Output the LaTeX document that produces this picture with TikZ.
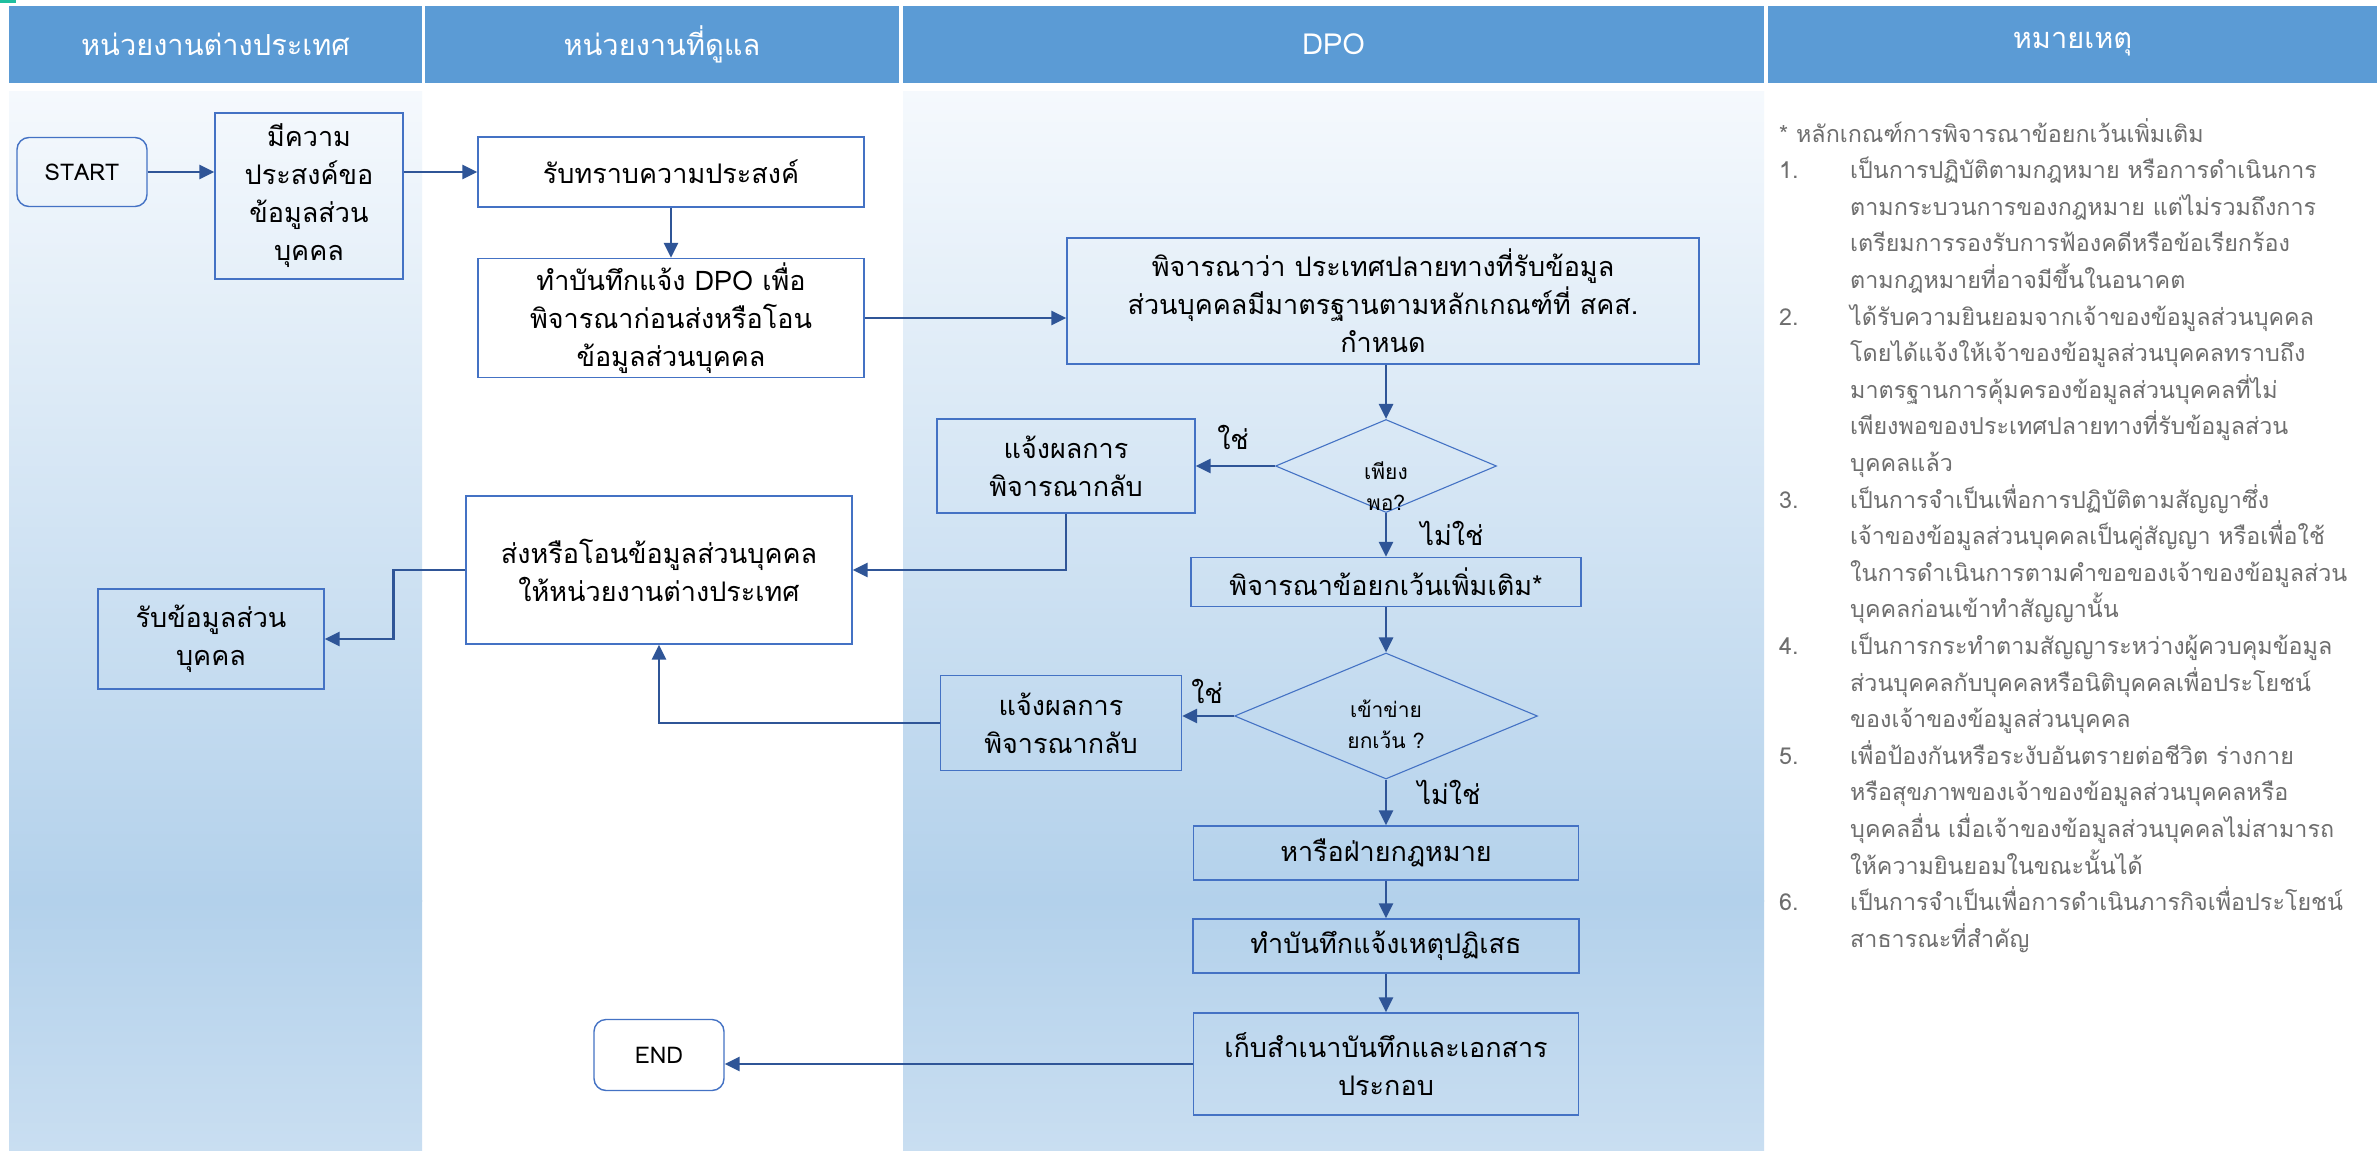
\documentclass[tikz,border=0pt]{standalone}
\usepackage{fontspec}
\setmainfont[Script=Thai]{Loma}
\usetikzlibrary{shapes.geometric,arrows.meta,calc}
\definecolor{hdr}{HTML}{5B9BD5}
\definecolor{ln}{HTML}{2F5597}
\definecolor{bd}{HTML}{4472C4}
\definecolor{laneTop}{HTML}{F5F9FD}
\definecolor{laneMid}{HTML}{B3D1EB}
\definecolor{laneBot}{HTML}{C9DEF1}
\definecolor{notegray}{HTML}{6E6E6E}
\definecolor{teal}{HTML}{1FBF9F}
\newcommand{\notepar}[1]{\parbox[t]{525pt}{\raggedright #1}}
\begin{document}
\begin{tikzpicture}[x=1pt,y=-1pt,
  hdrbox/.style={fill=hdr,draw=none,text=white,inner sep=0pt,font=\fontsize{29}{34}\selectfont},
  box/.style={draw=bd,line width=1.4pt,align=center,inner sep=0pt,font=\fontsize{27}{38}\selectfont},
  term/.style={box,rounded corners=12pt,font=\fontsize{23}{28}\selectfont},
  dec/.style={diamond,draw=bd,line width=1.1pt,inner sep=0pt},
  dectext/.style={align=center,inner sep=0pt,font=\fontsize{21}{31}\selectfont},
  lbl/.style={inner sep=0pt,font=\fontsize{27}{30}\selectfont},
  conn/.style={draw=ln,line width=2.8pt,-{Triangle[length=15pt,width=14pt]}},
  notetxt/.style={anchor=base west,inner sep=0pt,text=notegray,font=\fontsize{23.3}{36.6}\selectfont},
]
\useasboundingbox (0,0) rectangle (2380,1151);
\fill[white] (0,0) rectangle (2380,1151);
\fill[teal] (0,0) rectangle (16,3);
% lanes
\shade[top color=laneTop,bottom color=laneMid] (9,91) rectangle (422,901);
\shade[top color=laneMid,bottom color=laneBot] (9,900) rectangle (422,1151);
\shade[top color=laneTop,bottom color=laneMid] (903,91) rectangle (1764,901);
\shade[top color=laneMid,bottom color=laneBot] (903,900) rectangle (1764,1151);
% headers
\node[hdrbox,minimum width=413pt,minimum height=77pt] (h1) at (215.5,44.5) {หน่วยงานต่างประเทศ};
\node[hdrbox,minimum width=474pt,minimum height=77pt] (h2) at (662,44.5) {หน่วยงานที่ดูแล};
\node[hdrbox,minimum width=861pt,minimum height=77pt] (h3) at (1333.5,44.5) {DPO};
\node[hdrbox,minimum width=609pt,minimum height=77pt] (h4) at (2072.5,44.5) {หมายเหตุ};
% nodes
\node[term,minimum width=130pt,minimum height=69pt] (start) at (82,172) {START};
\node[box,minimum width=188pt,minimum height=166pt] (n2) at (309,196) {มีความ\\ประสงค์ขอ\\ข้อมูลส่วน\\บุคคล};
\node[box,minimum width=386pt,minimum height=70pt] (n3) at (671,172) {รับทราบความประสงค์};
\node[box,minimum width=386pt,minimum height=119pt] (n5) at (671,318) {ทำบันทึกแจ้ง DPO เพื่อ\\พิจารณาก่อนส่งหรือโอน\\ข้อมูลส่วนบุคคล};
\node[box,minimum width=632pt,minimum height=126pt] (n7) at (1383,301) {พิจารณาว่า ประเทศปลายทางที่รับข้อมูล\\ส่วนบุคคลมีมาตรฐานตามหลักเกณฑ์ที่ สคส.\\กำหนด};
\node[dec,minimum width=221pt,minimum height=93pt] (d1) at (1386,466) {};
\node[dectext] (d1t) at (1386,486) {เพียง\\พอ?};
\node[box,minimum width=258pt,minimum height=94pt] (r1) at (1066,466) {แจ้งผลการ\\พิจารณากลับ};
\node[box,minimum width=386pt,minimum height=148pt] (n10) at (659,570) {ส่งหรือโอนข้อมูลส่วนบุคคล\\ให้หน่วยงานต่างประเทศ};
\node[box,minimum width=226pt,minimum height=100pt] (n11) at (211,639) {รับข้อมูลส่วน\\บุคคล};
\node[box,minimum width=390pt,minimum height=49pt] (n13) at (1386,582) {พิจารณาข้อยกเว้นเพิ่มเติม*};
\node[dec,minimum width=303pt,minimum height=126pt] (d2) at (1386,716) {};
\node[dectext] (d2t) at (1386,724) {เข้าข่าย\\ยกเว้น ?};
\node[box,minimum width=241pt,minimum height=95pt] (r2) at (1061,723) {แจ้งผลการ\\พิจารณากลับ};
\node[box,minimum width=385pt,minimum height=54pt] (n14) at (1386,853) {หารือฝ่ายกฎหมาย};
\node[box,minimum width=386pt,minimum height=54pt] (n15) at (1386,946) {ทำบันทึกแจ้งเหตุปฏิเสธ};
\node[box,minimum width=385pt,minimum height=102pt] (n16) at (1386,1064) {เก็บสำเนาบันทึกและเอกสาร\\ประกอบ};
\node[term,minimum width=130pt,minimum height=71pt] (end) at (659,1055) {END};
% labels
\node[lbl] (y1) at (1233,437) {ใช่};
\node[lbl] (no1) at (1452,533) {ไม่ใช่};
\node[lbl] (y2) at (1207,691) {ใช่};
\node[lbl] (no2) at (1449,792) {ไม่ใช่};
% connectors
\draw[conn] (start.east) -- (start.east -| n2.west);
\draw[conn] (n2.east |- n3.west) -- (n3.west);
\draw[conn] (n3.south) -- (n5.north);
\draw[conn] (n5.east) -- (n5.east -| n7.west);
\draw[conn] (d1.north |- n7.south) -- (d1.north);
\draw[conn] (d1.west) -- (r1.east);
\draw[conn] (r1.south) |- (n10.east);
\draw[conn] (d1.south) -- (d1.south |- n13.north);
\draw[conn] (d2.north |- n13.south) -- (d2.north);
\draw[conn] (d2.west) -- (d2.west -| r2.east);
\draw[conn] (r2.west) -| (n10.south);
\draw[conn] (n10.west) -- ++(-72,0) |- (n11.east);
\draw[conn] (d2.south) -- (n14.north);
\draw[conn] (n14.south) -- (n15.north);
\draw[conn] (n15.south) -- (n16.north);
\draw[conn] (n16.west) -- (n16.west -| end.east);
% notes
\node[notetxt] (nt0) at (1779,142) {* หลักเกณฑ์การพิจารณาข้อยกเว้นเพิ่มเติม};
\node[notetxt] (nn1) at (1779,178.6) {1.};
\node[notetxt] (nt1) at (1850,178.6) {\notepar{เป็นการปฏิบัติตามกฎหมาย หรือการดำเนินการ\\ตามกระบวนการของกฎหมาย แต่ไม่รวมถึงการ\\เตรียมการรองรับการฟ้องคดีหรือข้อเรียกร้อง\\ตามกฎหมายที่อาจมีขึ้นในอนาคต}};
\node[notetxt] (nn2) at (1779,325) {2.};
\node[notetxt] (nt2) at (1850,325) {\notepar{ได้รับความยินยอมจากเจ้าของข้อมูลส่วนบุคคล\\โดยได้แจ้งให้เจ้าของข้อมูลส่วนบุคคลทราบถึง\\มาตรฐานการคุ้มครองข้อมูลส่วนบุคคลที่ไม่\\เพียงพอของประเทศปลายทางที่รับข้อมูลส่วน\\บุคคลแล้ว}};
\node[notetxt] (nn3) at (1779,508) {3.};
\node[notetxt] (nt3) at (1850,508) {\notepar{เป็นการจำเป็นเพื่อการปฏิบัติตามสัญญาซึ่ง\\เจ้าของข้อมูลส่วนบุคคลเป็นคู่สัญญา หรือเพื่อใช้\\ในการดำเนินการตามคำขอของเจ้าของข้อมูลส่วน\\บุคคลก่อนเข้าทำสัญญานั้น}};
\node[notetxt] (nn4) at (1779,654.4) {4.};
\node[notetxt] (nt4) at (1850,654.4) {\notepar{เป็นการกระทำตามสัญญาระหว่างผู้ควบคุมข้อมูล\\ส่วนบุคคลกับบุคคลหรือนิติบุคคลเพื่อประโยชน์\\ของเจ้าของข้อมูลส่วนบุคคล}};
\node[notetxt] (nn5) at (1779,764.2) {5.};
\node[notetxt] (nt5) at (1850,764.2) {\notepar{เพื่อป้องกันหรือระงับอันตรายต่อชีวิต ร่างกาย\\หรือสุขภาพของเจ้าของข้อมูลส่วนบุคคลหรือ\\บุคคลอื่น เมื่อเจ้าของข้อมูลส่วนบุคคลไม่สามารถ\\ให้ความยินยอมในขณะนั้นได้}};
\node[notetxt] (nn6) at (1779,910.6) {6.};
\node[notetxt] (nt6) at (1850,910.6) {\notepar{เป็นการจำเป็นเพื่อการดำเนินภารกิจเพื่อประโยชน์\\สาธารณะที่สำคัญ}};
\end{tikzpicture}
\end{document}
